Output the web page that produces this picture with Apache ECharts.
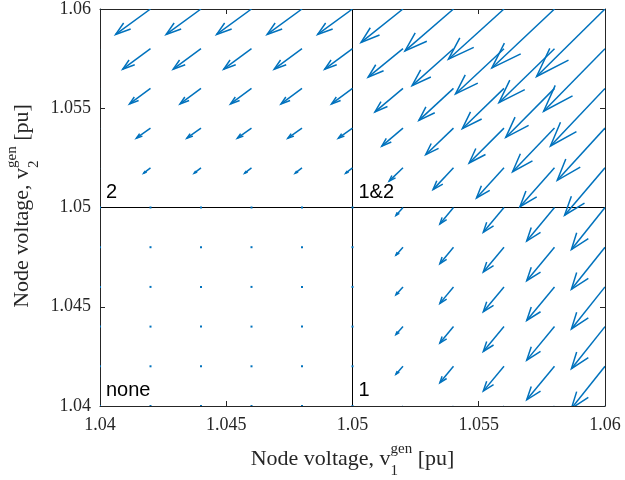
<!DOCTYPE html>
<html>
<head>
<meta charset="utf-8">
<script src="https://cdn.jsdelivr.net/npm/echarts@6/dist/echarts.min.js"></script>
<style>
  html, body { margin: 0; padding: 0; background: #fff; }
  #chart { width: 625px; height: 480px; }
</style>
</head>
<body>
<div id="chart"></div>
<script>
// grid of arrow tails
var xs = [1.040, 1.042, 1.044, 1.046, 1.048, 1.050, 1.052, 1.054, 1.056, 1.058, 1.060];
var ys = [1.040, 1.042, 1.044, 1.046, 1.048, 1.050, 1.052, 1.054, 1.056, 1.058, 1.060];

// arrow components, units of 1e-4 pu, one row per y value (bottom to top)
var U = [
  [0, 0, 0, 0, 0, 0, -2.8, -5.4, -8.2, -11.0, -13.3],
  [0, 0, 0, 0, 0, 0, -2.8, -5.4, -8.2, -11.0, -13.3],
  [0, 0, 0, 0, 0, 0, -2.8, -5.4, -8.2, -11.0, -13.3],
  [0, 0, 0, 0, 0, 0, -2.8, -5.4, -8.2, -11.0, -13.3],
  [0, 0, 0, 0, 0, 0, -2.8, -5.4, -8.2, -11.0, -13.3],
  [0, 0, 0, 0, 0, 0, -2.8, -5.4, -8.2, -11.0, -13.3],
  [-2.7, -2.7, -2.7, -2.7, -2.7, -2.7, -5.5, -8.1, -10.9, -13.7, -16.0],
  [-5.6, -5.6, -5.6, -5.6, -5.6, -5.6, -8.4, -11.0, -13.8, -16.6, -18.9],
  [-8.3, -8.3, -8.3, -8.3, -8.3, -8.3, -11.1, -13.7, -16.5, -19.3, -21.6],
  [-11.0, -11.0, -11.0, -11.0, -11.0, -11.0, -13.8, -16.4, -19.2, -22.0, -24.3],
  [-13.8, -13.8, -13.8, -13.8, -13.8, -13.8, -16.6, -19.2, -22.0, -24.8, -27.1]
];
var V = [
  [0, 0, 0, 0, 0, 0, -4.0, -8.3, -12.5, -16.9, -21.2],
  [0, 0, 0, 0, 0, 0, -4.0, -8.3, -12.5, -16.9, -21.2],
  [0, 0, 0, 0, 0, 0, -4.0, -8.3, -12.5, -16.9, -21.2],
  [0, 0, 0, 0, 0, 0, -4.0, -8.3, -12.5, -16.9, -21.2],
  [0, 0, 0, 0, 0, 0, -4.0, -8.3, -12.5, -16.9, -21.2],
  [0, 0, 0, 0, 0, 0, -4.0, -8.3, -12.5, -16.9, -21.2],
  [-2.7, -2.7, -2.7, -2.7, -2.7, -2.7, -6.7, -11.0, -15.2, -19.6, -23.9],
  [-5.1, -5.1, -5.1, -5.1, -5.1, -5.1, -9.1, -13.4, -17.6, -22.0, -26.3],
  [-7.8, -7.8, -7.8, -7.8, -7.8, -7.8, -11.8, -16.1, -20.3, -24.7, -29.0],
  [-10.3, -10.3, -10.3, -10.3, -10.3, -10.3, -14.3, -18.6, -22.8, -27.2, -31.5],
  [-12.8, -12.8, -12.8, -12.8, -12.8, -12.8, -16.8, -21.1, -25.3, -29.7, -34.0]
];

var regionLabels = ['none', '1', '2', '1&2'];
var xLabelParts = ['Node voltage, v', 'gen', '1', ' [pu]'];
var yLabelParts = ['Node voltage, v', 'gen', '2', ' [pu]'];

var BLUE = '#0072BD';
var AXIS = '#262626';
var SERIF = '"Liberation Serif", "Times New Roman", serif';
var SANS = '"Liberation Sans", Arial, sans-serif';

var quiverData = [];
for (var j = 0; j < ys.length; j++) {
  for (var i = 0; i < xs.length; i++) {
    quiverData.push([xs[i], ys[j], U[j][i], V[j][i]]);
  }
}

// measure text so super/subscripts sit after the main text
var ctx = document.createElement('canvas').getContext('2d');
function textWidth(s, size) {
  ctx.font = size + 'px ' + SERIF;
  return ctx.measureText(s).width;
}

function axisTitle(parts, fs) {
  var ss = Math.round(fs * 0.7);
  var w1 = textWidth(parts[0], fs);
  var ws = Math.max(textWidth(parts[1], ss), textWidth(parts[2], ss));
  var w3 = textWidth(parts[3], fs);
  var x0 = -(w1 + ws + w3) / 2;
  function t(s, x, baseline, size) {
    return {
      type: 'text', x: x, y: baseline - 0.3 * size,
      style: { text: s, font: size + 'px ' + SERIF, fill: AXIS, verticalAlign: 'middle', align: 'left' }
    };
  }
  return [
    t(parts[0], x0, 0, fs),
    t(parts[1], x0 + w1, -12, ss),
    t(parts[2], x0 + w1, 10, ss),
    t(parts[3], x0 + w1 + ws, 0, fs)
  ];
}

var chart = echarts.init(document.getElementById('chart'), null, { renderer: 'canvas' });

var gridL = 100, gridT = 6, gridW = 505, gridH = 400;

function regionText(s, x, baseline) {
  return {
    type: 'text', x: x, y: baseline - 7,
    style: { text: s, font: '20px ' + SANS, fill: '#000', verticalAlign: 'middle', align: 'left' },
    z: 10
  };
}

var tickFmt = function (v) { return String(+v.toFixed(3)); };

var option = {
  animation: false,
  grid: { left: gridL, top: gridT, width: gridW, height: gridH, containLabel: false },
  xAxis: [
    {
      type: 'value', min: 1.04, max: 1.06, interval: 0.005, position: 'bottom',
      axisLine: { onZero: false, lineStyle: { color: AXIS, width: 1 } },
      axisTick: { inside: true, length: 5, lineStyle: { color: AXIS } },
      axisLabel: { formatter: tickFmt, color: AXIS, fontFamily: SERIF, fontSize: 18, margin: 10 },
      splitLine: { show: false }
    },
    {
      type: 'value', min: 1.04, max: 1.06, interval: 0.005, position: 'top',
      axisLine: { onZero: false, lineStyle: { color: AXIS, width: 1 } },
      axisTick: { inside: true, length: 5, lineStyle: { color: AXIS } },
      axisLabel: { show: false },
      splitLine: { show: false }
    }
  ],
  yAxis: [
    {
      type: 'value', min: 1.04, max: 1.06, interval: 0.005, position: 'left',
      axisLine: { show: true, onZero: false, lineStyle: { color: AXIS, width: 1 } },
      axisTick: { show: true, inside: true, length: 5, lineStyle: { color: AXIS } },
      axisLabel: { formatter: tickFmt, color: AXIS, fontFamily: SERIF, fontSize: 18, margin: 9 },
      splitLine: { show: false }
    },
    {
      type: 'value', min: 1.04, max: 1.06, interval: 0.005, position: 'right',
      axisLine: { show: true, onZero: false, lineStyle: { color: AXIS, width: 1 } },
      axisTick: { show: true, inside: true, length: 5, lineStyle: { color: AXIS } },
      axisLabel: { show: false },
      splitLine: { show: false }
    }
  ],
  series: [
    {
      type: 'line',
      z: 1,
      data: [],
      markLine: {
        silent: true,
        symbol: 'none',
        label: { show: false },
        lineStyle: { color: '#000', type: 'solid', width: 1 },
        data: [{ xAxis: 1.05 }, { yAxis: 1.05 }]
      }
    },
    {
      type: 'custom',
      z: 5,
      coordinateSystem: 'cartesian2d',
      clip: true,
      encode: { x: 0, y: 1 },
      data: quiverData,
      renderItem: function (params, api) {
        var x = api.value(0), y = api.value(1);
        var u = api.value(2) * 1e-4, v = api.value(3) * 1e-4;
        var tail = api.coord([x, y]);
        if (u === 0 && v === 0) {
          return {
            type: 'rect',
            shape: { x: tail[0] - 1, y: tail[1] - 1, width: 2, height: 2 },
            style: { fill: BLUE }
          };
        }
        var a = 0.33, b = 0.33;
        var tip = api.coord([x + u, y + v]);
        var h1 = api.coord([x + u - a * (u + b * v), y + v - a * (v - b * u)]);
        var h2 = api.coord([x + u - a * (u - b * v), y + v - a * (v + b * u)]);
        var st = { stroke: BLUE, lineWidth: 1.5, fill: null, lineJoin: 'miter' };
        return {
          type: 'group',
          children: [
            { type: 'polyline', shape: { points: [tail, tip] }, style: st },
            { type: 'polyline', shape: { points: [h1, tip, h2] }, style: st }
          ]
        };
      }
    }
  ],
  graphic: [
    regionText(regionLabels[2], 106, 199),
    regionText(regionLabels[3], 358.5, 199),
    regionText(regionLabels[0], 106, 397),
    regionText(regionLabels[1], 358.5, 397),
    { type: 'group', x: gridL + gridW / 2, y: 466, children: axisTitle(xLabelParts, 22) },
    { type: 'group', x: 29, y: gridT + gridH / 2, rotation: Math.PI / 2, children: axisTitle(yLabelParts, 22) }
  ]
};

chart.setOption(option);
</script>
</body>
</html>
